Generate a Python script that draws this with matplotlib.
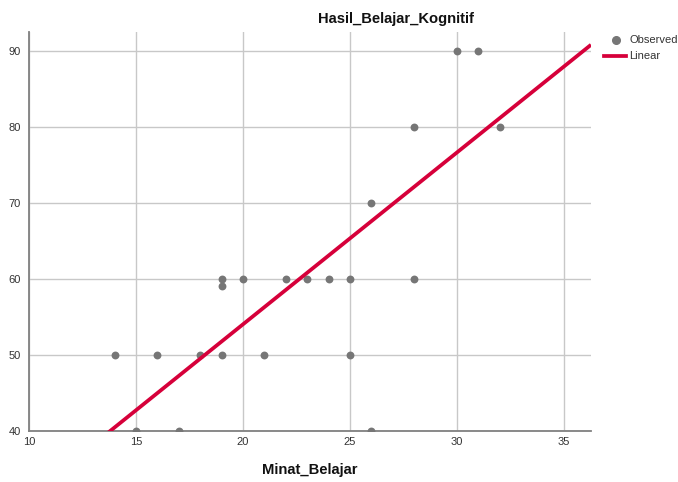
import matplotlib
matplotlib.use("Agg")
import matplotlib.pyplot as plt
from matplotlib.lines import Line2D

# Data
minat_belajar = [14, 15, 16, 17, 18, 19, 19, 19, 20, 21, 22, 23, 24, 25, 25, 26, 26, 28, 28, 30, 31, 32]
hasil_belajar = [50, 40, 50, 40, 50, 60, 59, 50, 60, 50, 60, 60, 60, 60, 50, 70, 40, 80, 60, 90, 90, 80]
fit_intercept = 8.83
fit_slope = 2.26
x_ticks = [10, 15, 20, 25, 30, 35]
y_ticks = [40, 50, 60, 70, 80, 90]
x_range = [10, 36.26]
y_range = [40, 92.5]

plt.rcParams['font.family'] = ['Liberation Sans', 'DejaVu Sans']

W, H = 678, 482
fig = plt.figure(figsize=(W / 100, H / 100), dpi=100)
ax = fig.add_axes([29 / W, 1 - 431 / H, (591 - 29) / W, (431 - 31.7) / H])

ax.set_xlim(*x_range)
ax.set_ylim(*y_range)
ax.set_xticks(x_ticks)
ax.set_yticks(y_ticks)
ax.grid(True, color='#c8c8c8', linewidth=1.0)
ax.set_axisbelow(True)

for s in ['top', 'right']:
    ax.spines[s].set_visible(False)
for s in ['left', 'bottom']:
    ax.spines[s].set_color('#808080')
    ax.spines[s].set_linewidth(1.3)
    ax.spines[s].set_zorder(1)

ax.tick_params(axis='both', length=0, labelsize=8, labelcolor='#333333')
ax.tick_params(axis='y', pad=6)
ax.tick_params(axis='x', pad=4)

ax.scatter(minat_belajar, hasil_belajar, s=32, color='#767676', zorder=3, linewidths=0)

lx = x_range
ly = [fit_intercept + fit_slope * v for v in lx]
ax.plot(lx, ly, color='#d6003a', linewidth=2.7, zorder=4, solid_capstyle='butt')

fig.text(396 / W, 1 - 19 / H, 'Hasil_Belajar_Kognitif', ha='center', va='center',
         fontsize=10.6, fontweight='bold', color='#111111')
fig.text(310 / W, 1 - 470 / H, 'Minat_Belajar', ha='center', va='center',
         fontsize=10.6, fontweight='bold', color='#111111')

# Legend drawn in figure coordinates
fig.add_artist(Line2D([616 / W], [1 - 40 / H], marker='o', markersize=5.5,
                      color='#767676', linestyle='none', transform=fig.transFigure))
fig.add_artist(Line2D([604 / W, 626 / W], [1 - 56 / H, 1 - 56 / H], color='#d6003a',
                      linewidth=2.7, transform=fig.transFigure))
fig.text(629 / W, 1 - 40 / H, 'Observed', ha='left', va='center', fontsize=8, color='#333333')
fig.text(629 / W, 1 - 56 / H, 'Linear', ha='left', va='center', fontsize=8, color='#333333')

fig.savefig('out.png', dpi=100)
